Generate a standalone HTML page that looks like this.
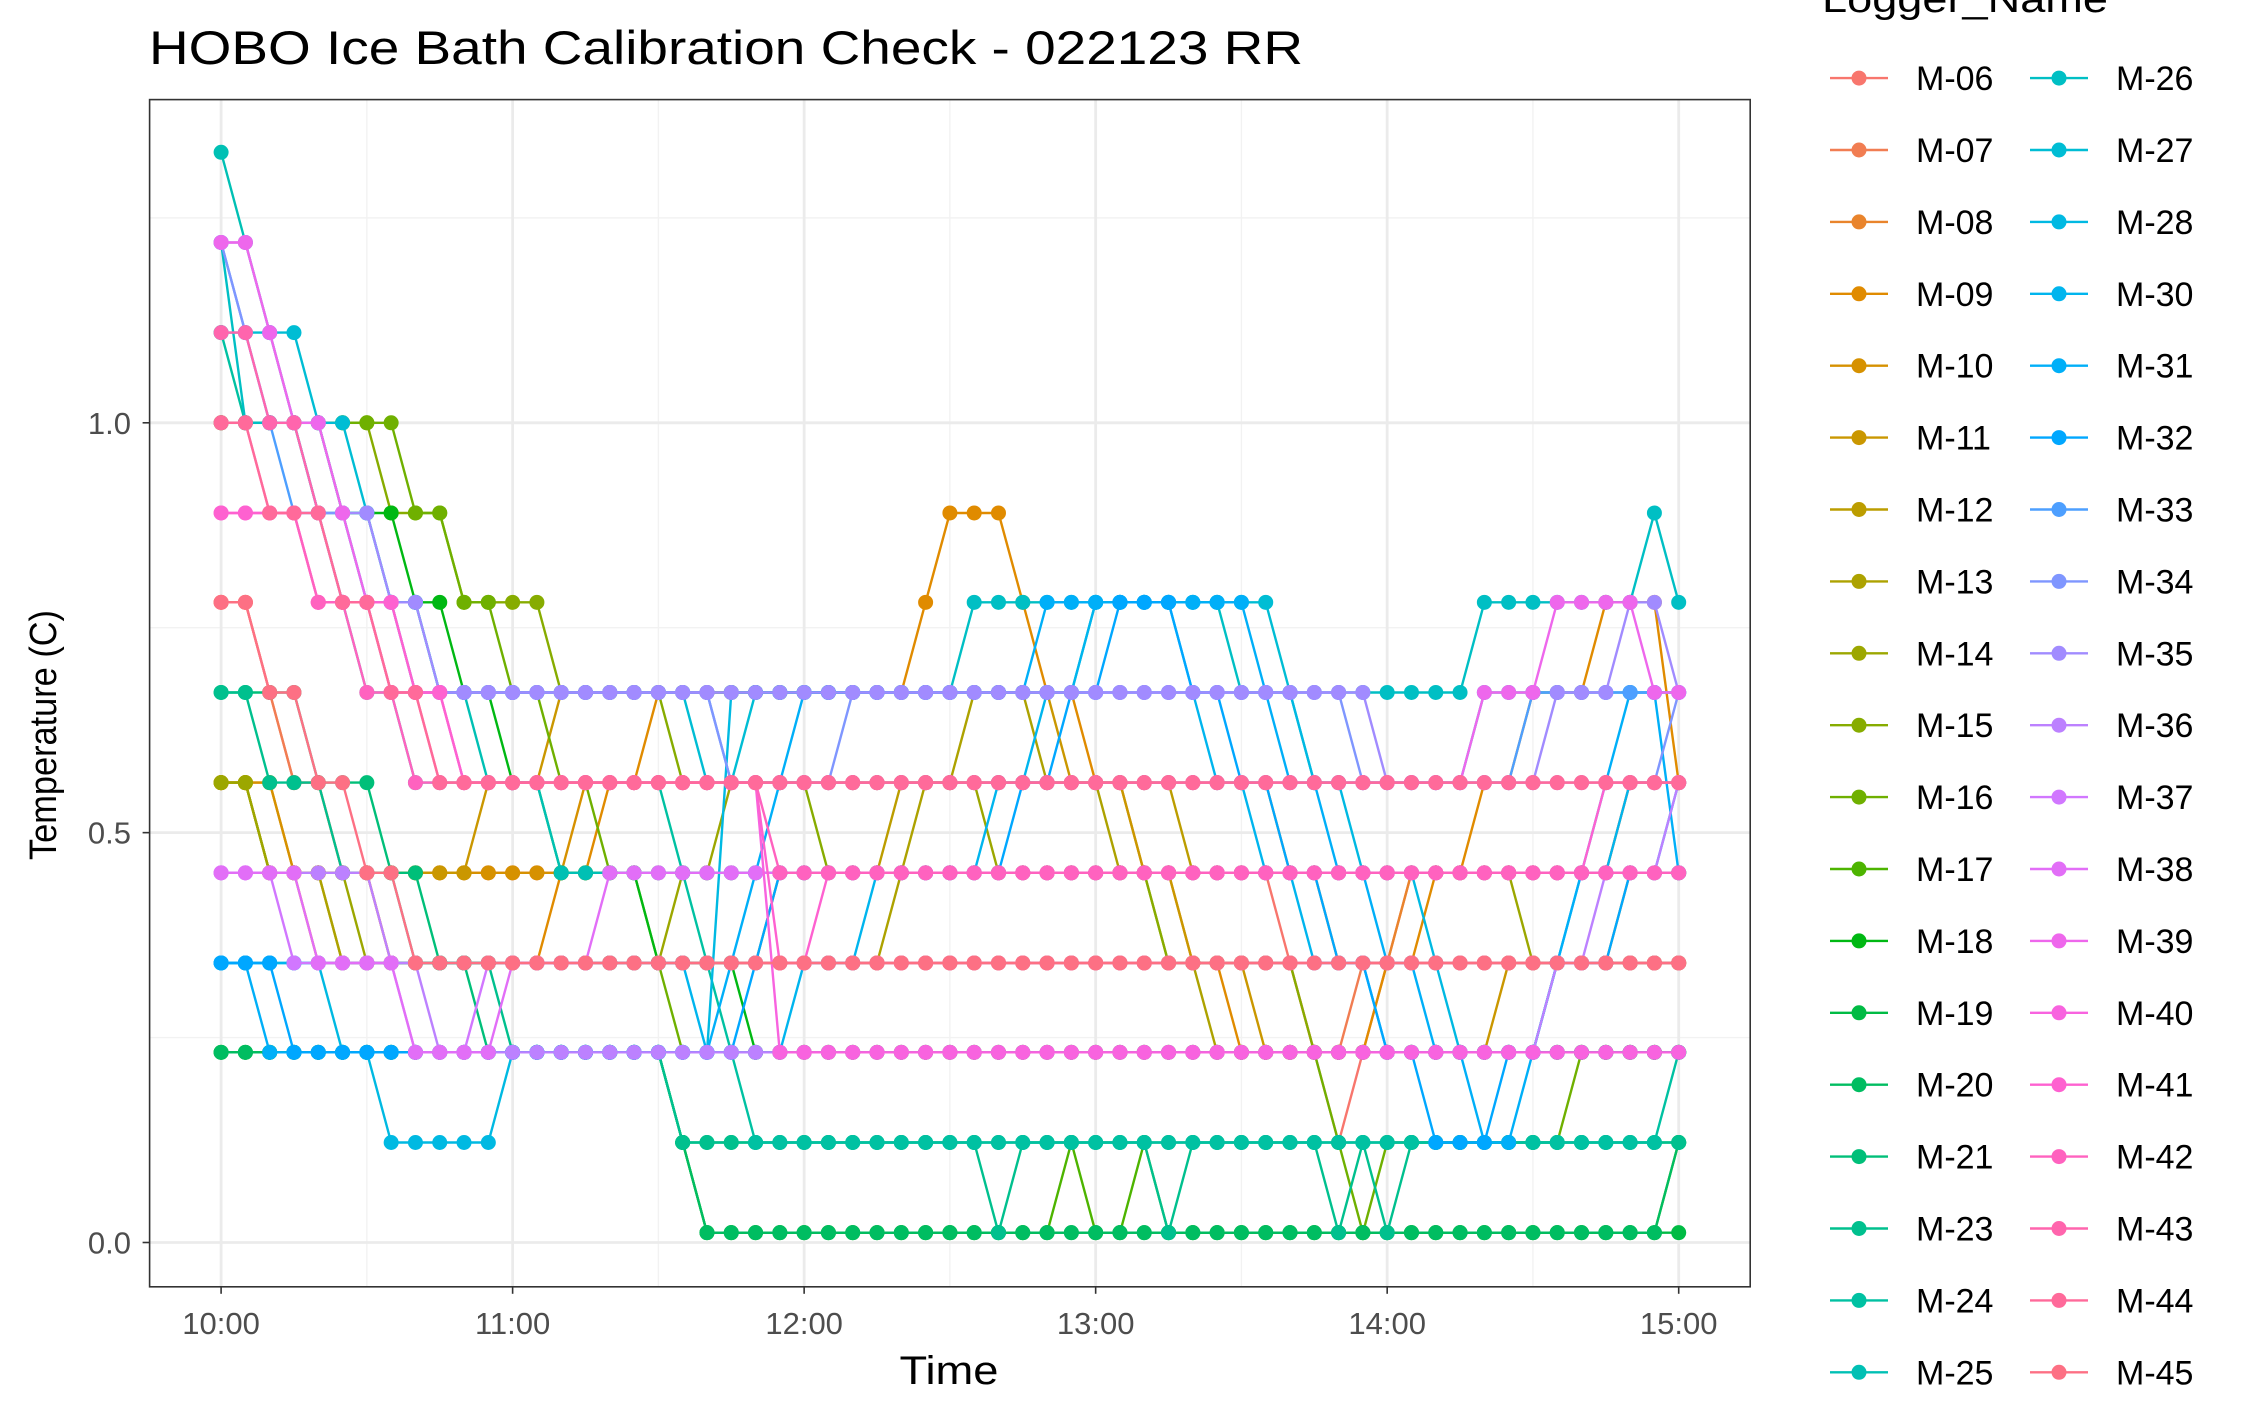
<!DOCTYPE html>
<html><head><meta charset="utf-8"><style>
html,body{margin:0;padding:0;background:#fff;}
svg{display:block;font-family:"Liberation Sans",Arial,sans-serif;}
</style></head><body>
<svg id="chart" width="2244" height="1417" viewBox="0 0 2244 1417" xmlns="http://www.w3.org/2000/svg">
<rect x="0" y="0" width="2244" height="1417" fill="#fff"/>
<text x="149" y="64" font-size="47" fill="#000" textLength="1154" lengthAdjust="spacingAndGlyphs">HOBO Ice Bath Calibration Check - 022123 RR</text>
<g id="grid"></g>
<g id="series"></g>
<rect x="149.6" y="99.6" width="1600.6" height="1187.2" fill="none" stroke="#333" stroke-width="1.6"/>
<g id="axes"></g>
<text x="949" y="1384" font-size="40" text-anchor="middle" textLength="99" lengthAdjust="spacingAndGlyphs">Time</text>
<text transform="translate(56,735) rotate(-90)" font-size="38" text-anchor="middle" textLength="250" lengthAdjust="spacingAndGlyphs">Temperature (C)</text>
<text x="1822" y="12" font-size="38" textLength="286" lengthAdjust="spacingAndGlyphs">Logger_Name</text>
<g id="legend"></g>
</svg>
<script>
const seriesNames = ["M-06","M-07","M-08","M-09","M-10","M-11","M-12","M-13","M-14","M-15","M-16","M-17","M-18","M-19","M-20","M-21","M-23","M-24","M-25","M-26","M-27","M-28","M-30","M-31","M-32","M-33","M-34","M-35","M-36","M-37","M-38","M-39","M-40","M-41","M-42","M-43","M-44","M-45"];
const levels = [0.012,0.122,0.232,0.341,0.451,0.561,0.671,0.781,0.890,1.000,1.110,1.220,1.330];
const seriesLevels = [
"7765544444 4444444444 4444444444 4444444444 4444321234 4444444455 5",
"7765544333 3333333333 3333333333 3333333333 3333322333 3333333333 3",
"5544444333 3333333333 3333333333 3333333333 3333333334 4444444455 5",
"5554333333 3333445566 6666666667 8887665544 3322222233 4455666777 5",
"5554444444 4444455555 5555555555 5555555555 5555443333 3333333333 3",
"5544444444 4555666666 6666666666 6666655544 3332222222 2223333344 4",
"5544433333 3333333333 3334444455 5555555555 4444444444 4444444444 4",
"5544433333 3333333333 3333333345 5666555443 3222222222 2222233333 3",
"5544443333 3333333334 4555555555 5544444444 4444444444 4444333333 3",
"9999999888 7777666665 5555544444 4444444443 3333322222 2222222222 2",
"9999999988 7766554432 2222222222 2222222222 2222221011 1111112222 2",
"2222222222 2222222221 0000000000 0000010010 0000000000 0000000000 1",
"9999988877 6655444433 3322222222 2222222222 2222222222 2222222222 2",
"2222222222 2222222221 0000000000 0000000000 0000000000 0000000000 0",
"2222222222 2222222221 0000000000 0000000000 0000000000 0000000000 1",
"6666555443 3222222221 1111111111 1111111111 1111111111 1111111111 1",
"6655544433 3322222221 1111111111 1101111110 1111110101 1111111111 1",
"a999876655 5555555554 3211111111 1111111111 1111111111 1111111111 2",
"cba9887766 6555444444 4444444444 4444444444 4444444444 4444444444 4",
"b999988776 6666666666 6666666666 6777777777 7766666666 6677777778 7",
"aaaa998776 6666666666 5566666666 6666667777 7777655555 5566666666 6",
"3333322111 1122222222 2666666666 6666666666 6666655444 3222222222 2",
"3333333333 3333333333 2222333444 4455667777 6554433322 2222234455 5",
"3322222222 2222222222 2345666666 6666777777 7776554433 2211234566 4",
"3332222222 2222222222 2234444444 4445566777 6655443322 1112233344 5",
"ba98877666 6666666666 6555555555 5555555555 5555555555 5555666666 6",
"ba99887766 6666666666 6555556666 6666666666 6666666555 5555555555 6",
"bba9988776 6666666666 6666666666 6666666666 6666666655 5555566677 6",
"4444444332 2222222222 2222222222 2222222222 2222222222 2222233444 5",
"4443333322 2333333333 3333333333 3333333333 3333333333 3333333333 3",
"4444333322 2233334444 4444444444 4444444444 4444444444 4444444444 4",
"bba9987766 5555555555 5555555555 5555555555 5555555555 5566677776 6",
"8888777666 5555555555 5552222222 2222222222 2222222222 2222222222 2",
"8888777766 5555555555 5553344444 4444444444 4444444444 4444444555 5",
"9988776655 5555555555 5554444444 4444444444 4444444444 4444444444 4",
"aa99877665 5555555555 5555555555 5555555555 5555555555 5555555555 5",
"9988877665 5555555555 5555555555 5555555555 5555555555 5555555555 5",
"7766554433 3333333333 3333333333 3333333333 3333333333 3333333333 3"
];
const startMinutes = 600;   // 10:00
const stepMinutes = 5;
const xTickMinutes = [600,660,720,780,840,900];
const xTickLabels = ["10:00","11:00","12:00","13:00","14:00","15:00"];
const yTicks = [0,0.5,1.0];
const yTickLabels = ["0.0","0.5","1.0"];

const NS = "http://www.w3.org/2000/svg";
const X0 = 221.1, X1 = 1678.7, PL = 149.6, PR = 1750.2, PT = 99.6, PB = 1286.8;
function xs(m){ return X0 + (m-600)/300*(X1-X0); }
function ys(v){ return 1242.5 - v*819.7; }
function mk(tag, attrs, parent){ const e=document.createElementNS(NS,tag); for(const k in attrs) e.setAttribute(k,attrs[k]); parent.appendChild(e); return e; }
function hcl(h,c,l){
  const hr=h*Math.PI/180, U=c*Math.cos(hr), V=c*Math.sin(hr);
  const Xn=0.95047,Yn=1,Zn=1.08883, d=Xn+15*Yn+3*Zn, un=4*Xn/d, vn=9*Yn/d;
  const Y = l>8 ? Math.pow((l+16)/116,3) : l/903.3;
  const u=U/(13*l)+un, v=V/(13*l)+vn;
  const X=9*Y*u/(4*v), Z=-X/3-5*Y+3*Y/v;
  const lin=[3.2404542*X-1.5371385*Y-0.4985314*Z, -0.969266*X+1.8760108*Y+0.041556*Z, 0.0556434*X-0.2040259*Y+1.0572252*Z];
  const g=lin.map(t=>{t=t<=0.0031308?12.92*t:1.055*Math.pow(t,1/2.4)-0.055; return Math.round(Math.max(0,Math.min(1,t))*255);});
  return "rgb("+g.join(",")+")";
}
const n = seriesNames.length;
const colors = seriesNames.map((s,i)=>hcl(15+i*360/n,100,65));

const grid=document.getElementById("grid");
mk("rect",{x:PL,y:PT,width:PR-PL,height:PB-PT,fill:"#fff"},grid);
[0.25,0.75,1.25].forEach(v=>{const l=mk("line",{x1:PL,x2:PR,y1:ys(v),y2:ys(v),stroke:"#f2f2f2","stroke-width":1.4},grid);

});
[630,690,750,810,870].forEach(m=>{const l=mk("line",{x1:xs(m),x2:xs(m),y1:PT,y2:PB,stroke:"#f2f2f2","stroke-width":1.4},grid);

});
yTicks.forEach(v=>{const l=mk("line",{x1:PL,x2:PR,y1:ys(v),y2:ys(v),stroke:"#ebebeb","stroke-width":2.8},grid);

});
xTickMinutes.forEach(m=>{const l=mk("line",{x1:xs(m),x2:xs(m),y1:PT,y2:PB,stroke:"#ebebeb","stroke-width":2.8},grid);

});

const sg=document.getElementById("series");
seriesLevels.forEach((str,i)=>{
  const vals=str.replace(/ /g,"").split("").map(ch=>levels[parseInt(ch,16)]);
  const g=mk("g",{},sg);
  
  
  const pts=vals.map((v,j)=>xs(startMinutes+j*stepMinutes).toFixed(1)+","+ys(v).toFixed(1)).join(" ");
  const pl=mk("polyline",{points:pts,fill:"none",stroke:colors[i],"stroke-width":2.4},g);
  
  
  vals.forEach((v,j)=>{
    const c=mk("circle",{cx:xs(startMinutes+j*stepMinutes),cy:ys(v),r:7.5,fill:colors[i]},g);
    
    
  });
});

const ax=document.getElementById("axes");
xTickMinutes.forEach((m,i)=>{
  const t=mk("line",{x1:xs(m),x2:xs(m),y1:PB,y2:PB+7,stroke:"#333","stroke-width":1.6},ax);
  
  
  const lb=mk("text",{x:xs(m),y:1334,"font-size":31,fill:"#4d4d4d","text-anchor":"middle"},ax);
  lb.textContent=xTickLabels[i];
  
  
});
yTicks.forEach((v,i)=>{
  const t=mk("line",{x1:PL-7,x2:PL,y1:ys(v),y2:ys(v),stroke:"#333","stroke-width":1.6},ax);
  
  
  const lb=mk("text",{x:131,y:ys(v)+11,"font-size":31,fill:"#4d4d4d","text-anchor":"end"},ax);
  lb.textContent=yTickLabels[i];
  
  
});

const lg=document.getElementById("legend");
seriesNames.forEach((name,i)=>{
  const col=Math.floor(i/19), row=i%19;
  const y=78.1+row*71.9, xl=col?2030:1830;
  const g=mk("g",{},lg);
  
  
  mk("line",{x1:xl,x2:xl+58,y1:y,y2:y,stroke:colors[i],"stroke-width":2.4},g);
  mk("circle",{cx:xl+29,cy:y,r:7.5,fill:colors[i]},g);
  const t=mk("text",{x:xl+86,y:y+12,"font-size":34,fill:"#000"},g);
  t.textContent=name;
});
</script>
</body></html>
